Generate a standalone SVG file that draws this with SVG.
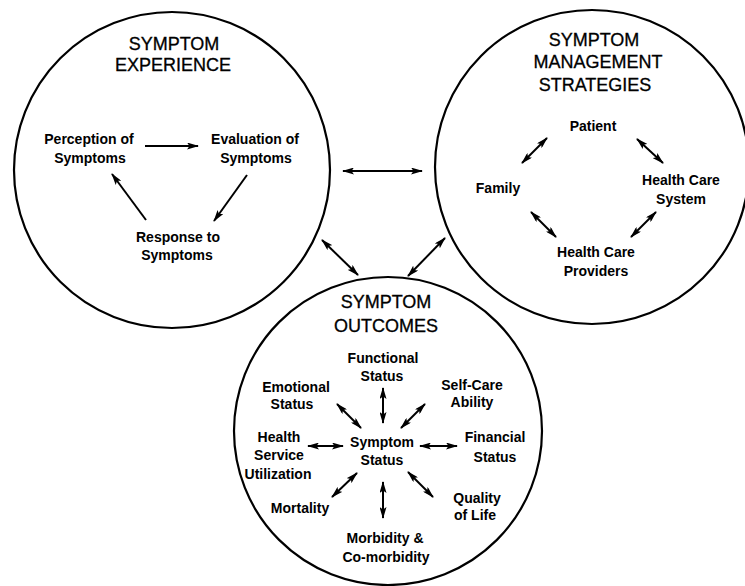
<svg xmlns="http://www.w3.org/2000/svg" width="745" height="586" viewBox="0 0 745 586">
<defs>
<marker id="ah" viewBox="0 0 12 7" refX="11" refY="3.5" markerWidth="12" markerHeight="7" orient="auto-start-reverse" markerUnits="userSpaceOnUse">
<path d="M0,0 L12,3.5 L0,7 L2.5,3.5 z" fill="#000"/>
</marker>
<style>
text{font-family:"Liberation Sans",Arial,Helvetica,sans-serif;fill:#000;text-anchor:middle}
.t{font-size:18px;stroke:#000;stroke-width:0.3}
.n{font-size:14px;font-weight:bold}
.c{fill:none;stroke:#000;stroke-width:2.2}
.a{fill:none;stroke:#000;stroke-width:2;marker-end:url(#ah)}
.d{fill:none;stroke:#000;stroke-width:2;marker-start:url(#ah);marker-end:url(#ah)}
</style>
</defs>
<rect width="745" height="586" fill="#fff"/>

<g id="experience">
<circle class="c" cx="172" cy="170" r="158"/>
<text class="t" x="174" y="50">SYMPTOM</text>
<text class="t" x="173" y="71">EXPERIENCE</text>
</g>
<g id="perception"><text class="n" x="89" y="144">Perception of</text><text class="n" x="90" y="163">Symptoms</text></g>
<g id="evaluation"><text class="n" x="255" y="144">Evaluation of</text><text class="n" x="256" y="163">Symptoms</text></g>
<g id="response"><text class="n" x="178" y="242">Response to</text><text class="n" x="177" y="260">Symptoms</text></g>

<g id="management">
<circle class="c" cx="592" cy="167" r="157"/>
<text class="t" x="594" y="46">SYMPTOM</text>
<text class="t" x="598" y="68">MANAGEMENT</text>
<text class="t" x="595" y="91">STRATEGIES</text>
</g>
<g id="patient"><text class="n" x="593" y="131">Patient</text></g>
<g id="family"><text class="n" x="498" y="193">Family</text></g>
<g id="hcsystem"><text class="n" x="681" y="185">Health Care</text><text class="n" x="681" y="204">System</text></g>
<g id="hcproviders"><text class="n" x="596" y="257">Health Care</text><text class="n" x="596" y="276">Providers</text></g>

<g id="outcomes">
<circle class="c" cx="388" cy="431" r="154"/>
<text class="t" x="386" y="308">SYMPTOM</text>
<text class="t" x="386" y="332">OUTCOMES</text>
</g>
<g id="symptomstatus"><text class="n" x="382" y="447">Symptom</text><text class="n" x="382" y="465">Status</text></g>
<g id="functional"><text class="n" x="383" y="363">Functional</text><text class="n" x="382" y="381">Status</text></g>
<g id="emotional"><text class="n" x="296" y="392">Emotional</text><text class="n" x="292" y="409">Status</text></g>
<g id="selfcare"><text class="n" x="472" y="390">Self-Care</text><text class="n" x="472" y="407">Ability</text></g>
<g id="hsu"><text class="n" x="279" y="442">Health</text><text class="n" x="279" y="460">Service</text><text class="n" x="278" y="479">Utilization</text></g>
<g id="financial"><text class="n" x="495" y="442">Financial</text><text class="n" x="495" y="462">Status</text></g>
<g id="quality"><text class="n" x="477" y="503">Quality</text><text class="n" x="475" y="520">of Life</text></g>
<g id="mortality"><text class="n" x="300" y="513">Mortality</text></g>
<g id="morbidity"><text class="n" x="385" y="543">Morbidity &amp;</text><text class="n" x="386" y="562">Co-morbidity</text></g>

<g id="connectors">
<line class="a" x1="145" y1="146" x2="198" y2="146"/>
<line class="a" x1="247" y1="175" x2="214" y2="221"/>
<line class="a" x1="146" y1="220" x2="112" y2="174"/>
<line class="d" x1="343" y1="171" x2="422" y2="171"/>
<line class="d" x1="322" y1="240" x2="358" y2="275"/>
<line class="d" x1="445" y1="238" x2="408" y2="276"/>
<line class="d" x1="547" y1="138" x2="522" y2="163"/>
<line class="d" x1="637" y1="139" x2="663" y2="163"/>
<line class="d" x1="531" y1="212" x2="556" y2="237"/>
<line class="d" x1="656" y1="212" x2="631" y2="237"/>
<line class="d" x1="383" y1="388" x2="383" y2="423"/>
<line class="d" x1="337" y1="404" x2="361" y2="428"/>
<line class="d" x1="425" y1="404" x2="401" y2="428"/>
<line class="d" x1="308" y1="446" x2="343" y2="446"/>
<line class="d" x1="420" y1="446" x2="457" y2="446"/>
<line class="d" x1="357" y1="473" x2="332" y2="497"/>
<line class="d" x1="383" y1="482" x2="383" y2="518"/>
<line class="d" x1="408" y1="472" x2="433" y2="497"/>
</g>
</svg>
